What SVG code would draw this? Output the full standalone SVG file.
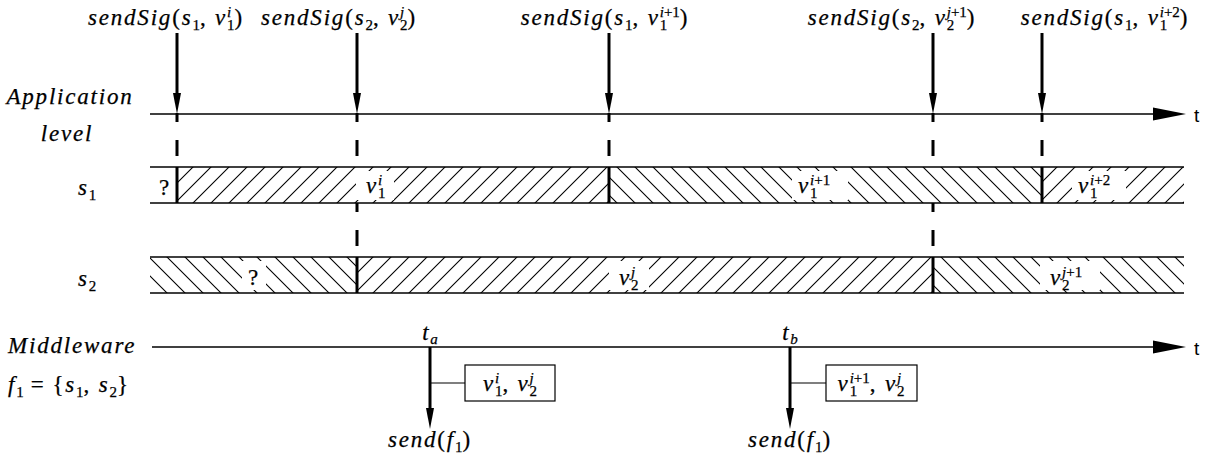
<svg xmlns="http://www.w3.org/2000/svg" width="1205" height="457" viewBox="0 0 1205 457">
<style>
.ax{stroke:#000;stroke-width:1.6;fill:none}
.thick{stroke:#000;stroke-width:3;fill:none}
.dash{stroke:#000;stroke-width:3;stroke-dasharray:9 18 16 11;fill:none}
.thin{stroke:#000;stroke-width:1.2;fill:none}
.head{fill:#000;stroke:none}
.m{font-family:'Liberation Serif','DejaVu Serif',serif;font-style:italic;font-size:23px;letter-spacing:1.8px;fill:#000;stroke:#000;stroke-width:0.25}
.r{font-style:normal}
.sb,.sp{font-size:15px;letter-spacing:0}
.sb{font-style:normal}
.it{font-style:italic}
.tt{font-family:'Liberation Sans',sans-serif;font-size:19px;fill:#000}
.wb{fill:#fff;stroke:none}
.box{fill:#fff;stroke:#000;stroke-width:1.2}
</style>
<defs>
<pattern id="fw" patternUnits="userSpaceOnUse" width="18" height="18">
<path d="M0,18 L18,0 M-4.5,4.5 L4.5,-4.5 M13.5,22.5 L22.5,13.5" stroke="#000" stroke-width="1.1"/>
</pattern>
<pattern id="bw" patternUnits="userSpaceOnUse" width="18" height="18">
<path d="M0,0 L18,18 M-4.5,13.5 L4.5,22.5 M13.5,-4.5 L22.5,4.5" stroke="#000" stroke-width="1.1"/>
</pattern>
</defs>

<g id="left-labels">
<text class="m" x="70" y="104" text-anchor="middle">Application</text>
<text class="m" x="67" y="141" text-anchor="middle">level</text>
<text class="m" x="78" y="195">s<tspan class="sb" dy="5">1</tspan></text>
<text class="m" x="78" y="286">s<tspan class="sb" dy="5">2</tspan></text>
<text class="m" x="8" y="353">Middleware</text>
<text class="m" x="8" y="392">f<tspan class="sb" dy="5">1</tspan><tspan class="r" dx="7" dy="-5">=</tspan><tspan class="r" dx="7">{</tspan>s<tspan class="sb" dy="5">1</tspan><tspan class="r" dy="-5">, </tspan>s<tspan class="sb" dy="5">2</tspan><tspan class="r" dy="-5">}</tspan></text>
</g>

<g id="signal-s1">
<rect x="177" y="167" width="432" height="36" fill="url(#fw)"/>
<rect x="609" y="167" width="433" height="36" fill="url(#bw)"/>
<rect x="1042" y="167" width="142" height="36" fill="url(#fw)"/>
<rect class="wb" x="356" y="171" width="38" height="29"/>
<rect class="wb" x="792" y="171" width="56" height="29"/>
<rect class="wb" x="1072" y="171" width="54" height="29"/>
<line class="ax" x1="150" y1="167" x2="1184" y2="167"/>
<line class="ax" x1="150" y1="203" x2="1184" y2="203"/>
<line class="thick" x1="177" y1="167" x2="177" y2="203"/>
<line class="thick" x1="609" y1="167" x2="609" y2="203"/>
<line class="thick" x1="1042" y1="167" x2="1042" y2="203"/>
<text class="m" x="165" y="195" text-anchor="middle"><tspan class="r">?</tspan></text>
<text class="m" x="366" y="193">v<tspan class="sb" dy="5">1</tspan><tspan class="sp" dx="-7.5" dy="-13">i</tspan></text>
<text class="m" x="798" y="193">v<tspan class="sb" dy="5">1</tspan><tspan class="sp" dx="-7.5" dy="-13">i<tspan class="r">+1</tspan></tspan></text>
<text class="m" x="1078" y="193">v<tspan class="sb" dy="5">1</tspan><tspan class="sp" dx="-7.5" dy="-13">i<tspan class="r">+2</tspan></tspan></text>
</g>

<g id="signal-s2">
<rect x="150" y="257" width="207" height="36" fill="url(#bw)"/>
<rect x="357" y="257" width="576" height="36" fill="url(#fw)"/>
<rect x="933" y="257" width="251" height="36" fill="url(#bw)"/>
<rect class="wb" x="242" y="261" width="24" height="29"/>
<rect class="wb" x="609" y="261" width="40" height="29"/>
<rect class="wb" x="1040" y="261" width="60" height="29"/>
<line class="ax" x1="150" y1="257" x2="1184" y2="257"/>
<line class="ax" x1="150" y1="293" x2="1184" y2="293"/>
<line class="thick" x1="357" y1="257" x2="357" y2="293"/>
<line class="thick" x1="933" y1="257" x2="933" y2="293"/>
<text class="m" x="254" y="285" text-anchor="middle"><tspan class="r">?</tspan></text>
<text class="m" x="619" y="285">v<tspan class="sb" dy="5">2</tspan><tspan class="sp" dx="-7.5" dy="-13">j</tspan></text>
<text class="m" x="1050" y="285">v<tspan class="sb" dy="5">2</tspan><tspan class="sp" dx="-7.5" dy="-13">j<tspan class="r">+1</tspan></tspan></text>
</g>

<g id="app-axis">
<line class="ax" x1="150" y1="114" x2="1160" y2="114"/>
<polygon class="head" points="1186,114 1153,107.5 1153,120.5"/>
<text class="tt" x="1194" y="122">t</text>
</g>

<g id="mw-axis">
<line class="ax" x1="152" y1="347" x2="1160" y2="347"/>
<polygon class="head" points="1186,347 1153,340.5 1153,353.5"/>
<text class="tt" x="1194" y="355">t</text>
</g>

<g id="sig-labels">
<text class="m" x="166" y="25" text-anchor="middle">sendSig<tspan class="r">(</tspan>s<tspan class="sb" dy="5">1</tspan><tspan class="r" dy="-5">, </tspan>v<tspan class="sb" dy="5">1</tspan><tspan class="sp" dx="-7.5" dy="-13">i</tspan><tspan class="r" dx="3.3" dy="8">)</tspan></text>
<text class="m" x="339" y="25" text-anchor="middle">sendSig<tspan class="r">(</tspan>s<tspan class="sb" dy="5">2</tspan><tspan class="r" dy="-5">, </tspan>v<tspan class="sb" dy="5">2</tspan><tspan class="sp" dx="-7.5" dy="-13">j</tspan><tspan class="r" dx="3.3" dy="8">)</tspan></text>
<text class="m" x="605" y="25" text-anchor="middle">sendSig<tspan class="r">(</tspan>s<tspan class="sb" dy="5">1</tspan><tspan class="r" dy="-5">, </tspan>v<tspan class="sb" dy="5">1</tspan><tspan class="sp" dx="-7.5" dy="-13">i<tspan class="r">+1</tspan></tspan><tspan class="r" dy="8">)</tspan></text>
<text class="m" x="892" y="25" text-anchor="middle">sendSig<tspan class="r">(</tspan>s<tspan class="sb" dy="5">2</tspan><tspan class="r" dy="-5">, </tspan>v<tspan class="sb" dy="5">2</tspan><tspan class="sp" dx="-7.5" dy="-13">j<tspan class="r">+1</tspan></tspan><tspan class="r" dy="8">)</tspan></text>
<text class="m" x="1105" y="25" text-anchor="middle">sendSig<tspan class="r">(</tspan>s<tspan class="sb" dy="5">1</tspan><tspan class="r" dy="-5">, </tspan>v<tspan class="sb" dy="5">1</tspan><tspan class="sp" dx="-7.5" dy="-13">i<tspan class="r">+2</tspan></tspan><tspan class="r" dy="8">)</tspan></text>
</g>

<g id="frame-a">
<text class="m" x="430" y="340" text-anchor="middle">t<tspan class="sb it" dy="4">a</tspan></text>
<rect class="box" x="465" y="365" width="90" height="36"/>
<text class="m" x="510" y="391" text-anchor="middle">v<tspan class="sb" dy="5">1</tspan><tspan class="sp" dx="-7.5" dy="-13">i</tspan><tspan class="r" dx="3.3" dy="8">, </tspan>v<tspan class="sb" dy="5">2</tspan><tspan class="sp" dx="-7.5" dy="-13">j</tspan></text>
<text class="m" x="430" y="447" text-anchor="middle">send<tspan class="r">(</tspan>f<tspan class="sb" dy="5">1</tspan><tspan class="r" dy="-5">)</tspan></text>
</g>

<g id="frame-b">
<text class="m" x="790" y="340" text-anchor="middle">t<tspan class="sb it" dy="4">b</tspan></text>
<rect class="box" x="826" y="365" width="91" height="36"/>
<text class="m" x="871" y="391" text-anchor="middle">v<tspan class="sb" dy="5">1</tspan><tspan class="sp" dx="-7.5" dy="-13">i<tspan class="r">+1</tspan></tspan><tspan class="r" dy="8">, </tspan>v<tspan class="sb" dy="5">2</tspan><tspan class="sp" dx="-7.5" dy="-13">j</tspan></text>
<text class="m" x="790" y="447" text-anchor="middle">send<tspan class="r">(</tspan>f<tspan class="sb" dy="5">1</tspan><tspan class="r" dy="-5">)</tspan></text>
</g>

<g id="connectors">
<line class="thick" x1="177" y1="33" x2="177" y2="98"/>
<polygon class="head" points="177,114 173,93 181,93"/>
<line class="thick" x1="357" y1="33" x2="357" y2="98"/>
<polygon class="head" points="357,114 353,93 361,93"/>
<line class="thick" x1="609" y1="33" x2="609" y2="98"/>
<polygon class="head" points="609,114 605,93 613,93"/>
<line class="thick" x1="933" y1="33" x2="933" y2="98"/>
<polygon class="head" points="933,114 929,93 937,93"/>
<line class="thick" x1="1042" y1="33" x2="1042" y2="98"/>
<polygon class="head" points="1042,114 1038,93 1046,93"/>
<line class="dash" x1="177" y1="113" x2="177" y2="167"/>
<line class="dash" x1="357" y1="113" x2="357" y2="167"/>
<line class="dash" x1="609" y1="113" x2="609" y2="167"/>
<line class="dash" x1="933" y1="113" x2="933" y2="167"/>
<line class="dash" x1="1042" y1="113" x2="1042" y2="167"/>
<line class="dash" x1="357" y1="203" x2="357" y2="257"/>
<line class="dash" x1="933" y1="203" x2="933" y2="257"/>
<line class="thick" x1="430" y1="347" x2="430" y2="412"/>
<polygon class="head" points="430,429 426,408 434,408"/>
<line class="thin" x1="430" y1="383" x2="465" y2="383"/>
<line class="thick" x1="790" y1="347" x2="790" y2="412"/>
<polygon class="head" points="790,429 786,408 794,408"/>
<line class="thin" x1="790" y1="383" x2="826" y2="383"/>
</g>
</svg>
